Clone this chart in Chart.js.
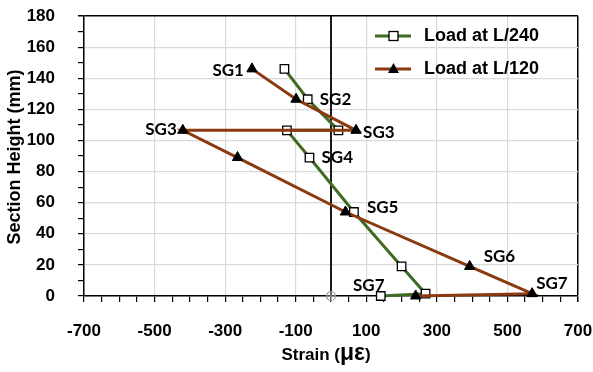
<!DOCTYPE html>
<html>
<head>
<meta charset="utf-8">
<script src="https://cdn.jsdelivr.net/npm/chart.js@4.4.1/dist/chart.umd.min.js"></script>
<style>
  body{margin:0;background:#fff;}
  #wrap{width:593px;height:372px;}
</style>
</head>
<body>
<div id="wrap"><canvas id="c" width="593" height="372"></canvas></div>
<script>
// ===== data =====
const strainL240 = [-132, -66, 21, -125, -61, 65, 200, 268, 141];
const heightL240 = [146, 126.5, 106.5, 106.5, 89, 54, 19, 1.5, 0];
const labelsL240 = ['', 'SG2', '', '', 'SG4', 'SG5', '', '', 'SG7'];

const strainL120 = [-224, -99, 71, -420, -265, 41, 393, 570, 240];
const heightL120 = [146, 126.5, 106.5, 106.5, 89, 54, 19, 1.5, 0];
const labelsL120 = ['SG1', '', 'SG3', 'SG3', '', '', 'SG6', 'SG7', ''];

const zeroLineX = [0, 0];
const zeroLineY = [0, 180];

const seriesNames = ['Load at L/240', 'Load at L/120'];
const xTitle = ['Strain (', 'με', ')'];
const yTitle = 'Section Height (mm)';

const GREEN = '#3f6b22', BROWN = '#8b3a0f';

// label placement (offset from the point, px)
const offL240 = {1:[12,0,'left'], 4:[12,0,'left'], 5:[13,-4,'left'], 8:[-12,-10,'center']};
const offL120 = {0:[-8,2,'right'], 2:[7,2,'left'], 3:[-6,-1,'right'], 6:[14,-10,'left'], 7:[4,-10,'left']};

function pts(xs, ys){ return xs.map((x,i)=>({x:x, y:ys[i]})); }

// small gray circle-with-plus marker used at the origin
const originMark = document.createElement('canvas');
originMark.width = 12; originMark.height = 12;
(function(){
  const g = originMark.getContext('2d');
  g.strokeStyle = '#999'; g.lineWidth = 1.2;
  g.beginPath(); g.arc(6,6,4.5,0,Math.PI*2); g.stroke();
  g.beginPath(); g.moveTo(6,1); g.lineTo(6,11); g.moveTo(1,6); g.lineTo(11,6); g.stroke();
})();

const sgLabels = {
  id:'sgLabels',
  afterDatasetsDraw(chart){
    const ctx = chart.ctx;
    const xs = chart.scales.x, ys = chart.scales.y;
    ctx.save();
    ctx.font = 'bold 17px Lato, "Open Sans", sans-serif';
    ctx.fillStyle = '#000';
    ctx.textBaseline = 'middle';
    const put = (xv, yv, labs, offs) => {
      labs.forEach((t,i)=>{
        if(!t) return;
        const o = offs[i];
        ctx.textAlign = o[2];
        ctx.fillText(t, xs.getPixelForValue(xv[i]) + o[0], ys.getPixelForValue(yv[i]) + o[1]);
      });
    };
    put(strainL240, heightL240, labelsL240, offL240);
    put(strainL120, heightL120, labelsL120, offL120);
    ctx.restore();
  }
};

const extras = {
  id:'extras',
  afterDraw(chart){
    const ctx = chart.ctx;
    const a = chart.chartArea;
    ctx.save();
    ctx.fillStyle = '#000';
    // y title
    ctx.font = 'bold 18px Arial, "Liberation Sans", sans-serif';
    ctx.translate(15, 157);
    ctx.rotate(-Math.PI/2);
    ctx.textAlign = 'center'; ctx.textBaseline = 'middle';
    ctx.fillText(yTitle, 0, 0);
    ctx.setTransform(1,0,0,1,0,0);
    // x title with larger mu-epsilon
    const f1 = 'bold 17px Arial, "Liberation Sans", sans-serif';
    const f2 = 'bold 23px Arial, "Liberation Sans", sans-serif';
    ctx.textAlign = 'left'; ctx.textBaseline = 'alphabetic';
    ctx.font = f1; const w1 = ctx.measureText(xTitle[0]).width, w3 = ctx.measureText(xTitle[2]).width;
    ctx.font = f2; const w2 = ctx.measureText(xTitle[1]).width;
    let x = 326 - (w1 + w2 + w3)/2; const base = 360;
    ctx.font = f1; ctx.fillText(xTitle[0], x, base); x += w1;
    ctx.font = f2; ctx.fillText(xTitle[1], x, base); x += w2;
    ctx.font = f1; ctx.fillText(xTitle[2], x, base);
    // legend inside the plot
    const fl = 'bold 18px Arial, "Liberation Sans", sans-serif';
    const rows = [[GREEN,'rect',36],[BROWN,'triangle',69]];
    rows.forEach((r,i)=>{
      ctx.strokeStyle = r[0]; ctx.lineWidth = 3;
      ctx.beginPath(); ctx.moveTo(375, r[2]); ctx.lineTo(411, r[2]); ctx.stroke();
      if(r[1]==='rect'){
        ctx.fillStyle = '#fff'; ctx.strokeStyle = '#000'; ctx.lineWidth = 1.3;
        ctx.fillRect(389, r[2]-4.5, 9, 9); ctx.strokeRect(389, r[2]-4.5, 9, 9);
      } else {
        ctx.fillStyle = '#000';
        ctx.beginPath(); ctx.moveTo(393.5, r[2]-6); ctx.lineTo(399, r[2]+4); ctx.lineTo(388, r[2]+4); ctx.closePath(); ctx.fill();
      }
      ctx.fillStyle = '#000';
      ctx.font = fl; ctx.textBaseline = 'middle';
      ctx.fillText(seriesNames[i], 424, r[2]);
    });
    ctx.restore();
  }
};

const tickFont = {family:'Arial, "Liberation Sans", sans-serif', size:17, weight:'bold'};

new Chart(document.getElementById('c'), {
  type:'scatter',
  data:{
    datasets:[
      {
        label: seriesNames[1], data: pts(strainL120, heightL120), showLine:true,
        borderColor: BROWN, borderWidth: 3, tension:0,
        pointStyle:'triangle', pointRadius:6, pointBackgroundColor:'#000', pointBorderColor:'#000', pointBorderWidth:1,
        order:0, clip:false
      },
      {
        label: seriesNames[0], data: pts(strainL240, heightL240), showLine:true,
        borderColor: GREEN, borderWidth: 3, tension:0,
        pointStyle:'rect', pointRadius:6, pointBackgroundColor:'#fff', pointBorderColor:'#000', pointBorderWidth:1.3,
        order:1, clip:false
      },
      {
        label:'zero', data: pts(zeroLineX, zeroLineY), showLine:true,
        borderColor:'#000', borderWidth:1.8,
        pointStyle: originMark, pointRadius:[5,0],
        order:2, clip:false
      }
    ]
  },
  options:{
    responsive:false, animation:false, devicePixelRatio:1,
    layout:{padding:{left:0, top:16, right:15, bottom:0}},
    plugins:{legend:{display:false}, tooltip:{enabled:false}},
    scales:{
      x:{
        type:'linear', min:-700, max:700,
        afterFit(s){ s.height = 76; s.paddingLeft = 0; s.paddingRight = 0; },
        border:{color:'#000', width:1.5},
        grid:{
          color: c => { const v = c.tick.value; if((v+700)%200!==0) return 'rgba(0,0,0,0)'; return v===700 ? '#000' : '#d9d9d9'; },
          lineWidth: c => c.tick.value===700 ? 1.5 : 1.2,
          tickColor:'#000', tickLength:6, drawTicks:true
        },
        ticks:{
          stepSize:50, autoSkip:false, maxRotation:0, padding:19,
          color:'#000', font:tickFont,
          callback: v => ((v+700)%200===0 ? v : '')
        }
      },
      y:{
        type:'linear', min:0, max:180,
        afterFit(s){ s.width = 84; s.paddingTop = 0; s.paddingBottom = 0; },
        border:{color:'#000', width:1.5},
        grid:{
          color: c => { const v = c.tick.value; if(v%20!==0) return 'rgba(0,0,0,0)'; return v===180 ? '#000' : '#d9d9d9'; },
          lineWidth: c => c.tick.value===180 ? 1.5 : 1.2,
          tickColor:'#000', tickLength:6, drawTicks:true
        },
        ticks:{
          stepSize:10, autoSkip:false, padding:23,
          color:'#000', font:tickFont,
          callback: v => (v%20===0 ? v : '')
        }
      }
    }
  },
  plugins:[sgLabels, extras]
});
</script>
</body>
</html>
